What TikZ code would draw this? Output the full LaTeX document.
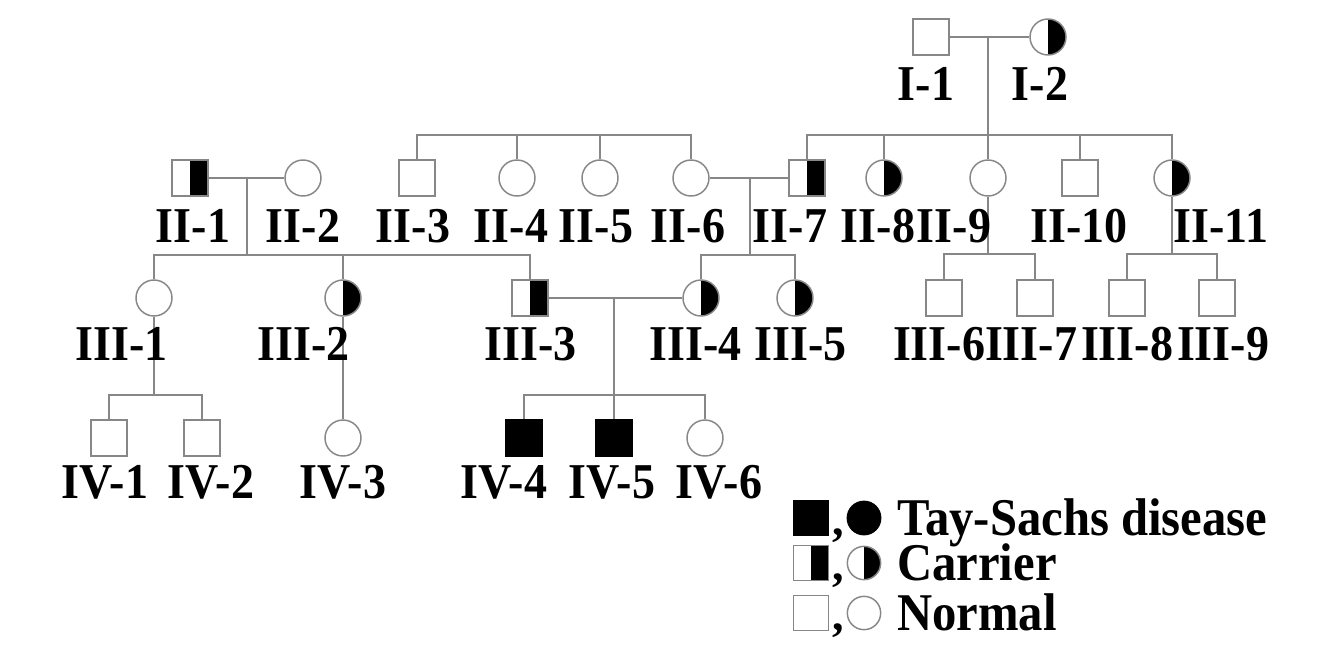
\documentclass[tikz,border=0pt]{standalone}
\usepackage{fontspec}
\usepackage{graphicx}
\setmainfont{Liberation Serif}
\newcommand{\tallt}[1]{\scalebox{1}[1.09]{#1}}
\tikzset{
    person/.style={draw=pedgray,line width=1.1pt,inner sep=0pt,minimum size=27pt},
    male/.style={person,shape=rectangle},
    female/.style={person,shape=circle},
    carrier/.style={path picture={\fill[black] (path picture bounding box.north) rectangle (path picture bounding box.south east);}},
    affected/.style={fill=black,draw=black},
    lbl/.style={anchor=base,inner sep=0pt,font=\fontsize{34.5}{36}\selectfont\bfseries},
    link/.style={draw=pedgray,line width=1.2pt}
}
\begin{document}
\begin{tikzpicture}[x=0.75pt,y=-0.75pt]
    \definecolor{pedgray}{RGB}{135,135,135}
    \useasboundingbox (0,0) rectangle (1334,658);
    % generation I
    \node[male] (I1) at (931,37) {};
    \node[female,carrier] (I2) at (1048,37) {};
    % generation II
    \node[male,carrier] (II1) at (190,178) {};
    \node[female] (II2) at (303,178) {};
    \node[male] (II3) at (417,178) {};
    \node[female] (II4) at (517,178) {};
    \node[female] (II5) at (600,178) {};
    \node[female] (II6) at (691,178) {};
    \node[male,carrier] (II7) at (807,178) {};
    \node[female,carrier] (II8) at (884,178) {};
    \node[female] (II9) at (988,178) {};
    \node[male] (II10) at (1080,178) {};
    \node[female,carrier] (II11) at (1172,178) {};
    % generation III
    \node[female] (III1) at (154,298) {};
    \node[female,carrier] (III2) at (343,298) {};
    \node[male,carrier] (III3) at (530,298) {};
    \node[female,carrier] (III4) at (701,298) {};
    \node[female,carrier] (III5) at (795,298) {};
    \node[male] (III6) at (944,298) {};
    \node[male] (III7) at (1035,298) {};
    \node[male] (III8) at (1127,298) {};
    \node[male] (III9) at (1217,298) {};
    % generation IV
    \node[male] (IV1) at (109,438) {};
    \node[male] (IV2) at (202,438) {};
    \node[female] (IV3) at (343,438) {};
    \node[male,affected] (IV4) at (524,438) {};
    \node[male,affected] (IV5) at (614,438) {};
    \node[female] (IV6) at (705,438) {};
    % couples and sibships
    \coordinate (m1) at (988,37);
    \coordinate (s2a) at (550,135);
    \coordinate (s2b) at (988,135);
    \coordinate (m2) at (247,178);
    \coordinate (s3a) at (247,255);
    \coordinate (m3) at (750,178);
    \coordinate (s3b) at (750,255);
    \coordinate (s3c) at (988,254);
    \coordinate (s3d) at (1172,254);
    \coordinate (m4) at (614,298);
    \coordinate (s4a) at (154,395);
    \coordinate (s4b) at (614,395);
    \draw[link] (I1.east) -- (I2.west);
    \draw[link] (m1) -- (s2b);
    \draw[link] (II3.north) |- (s2a) -| (II6.north);
    \draw[link] (II4.north) -- (II4.north |- s2a);
    \draw[link] (II5.north) -- (II5.north |- s2a);
    \draw[link] (II7.north) |- (s2b) -| (II11.north);
    \draw[link] (II8.north) -- (II8.north |- s2b);
    \draw[link] (II9.north) -- (s2b);
    \draw[link] (II10.north) -- (II10.north |- s2b);
    \draw[link] (II1.east) -- (II2.west);
    \draw[link] (m2) -- (s3a);
    \draw[link] (III1.north) |- (s3a) -| (III3.north);
    \draw[link] (III2.north) -- (III2.north |- s3a);
    \draw[link] (II6.east) -- (II7.west);
    \draw[link] (m3) -- (s3b);
    \draw[link] (III4.north) |- (s3b) -| (III5.north);
    \draw[link] (II9.south) -- (s3c);
    \draw[link] (III6.north) |- (s3c) -| (III7.north);
    \draw[link] (II11.south) -- (s3d);
    \draw[link] (III8.north) |- (s3d) -| (III9.north);
    \draw[link] (III3.east) -- (III4.west);
    \draw[link] (m4) -- (IV5.north);
    \draw[link] (IV4.north) |- (s4b) -| (IV6.north);
    \draw[link] (III1.south) -- (s4a);
    \draw[link] (IV1.north) |- (s4a) -| (IV2.north);
    \draw[link] (III2.south) -- (IV3.north);
    % labels
    \node[lbl] (tI1) at (926,100) {\tallt{I-1}};
    \node[lbl] (tI2) at (1040,100) {\tallt{I-2}};
    \node[lbl] (tII1) at (193,242) {\tallt{II-1}};
    \node[lbl] (tII2) at (303,242) {\tallt{II-2}};
    \node[lbl] (tII3) at (413,242) {\tallt{II-3}};
    \node[lbl] (tII4) at (511,242) {\tallt{II-4}};
    \node[lbl] (tII5) at (596,242) {\tallt{II-5}};
    \node[lbl] (tII6) at (688,242) {\tallt{II-6}};
    \node[lbl] (tII7) at (790,242) {\tallt{II-7}};
    \node[lbl] (tII8) at (878,242) {\tallt{II-8}};
    \node[lbl] (tII9) at (954,242) {\tallt{II-9}};
    \node[lbl] (tII10) at (1079,242) {\tallt{II-10}};
    \node[lbl] (tII11) at (1221,242) {\tallt{II-11}};
    \node[lbl] (tIII1) at (122,360) {\tallt{III-1}};
    \node[lbl] (tIII2) at (304,360) {\tallt{III-2}};
    \node[lbl] (tIII3) at (531,360) {\tallt{III-3}};
    \node[lbl] (tIII4) at (696,360) {\tallt{III-4}};
    \node[lbl] (tIII5) at (801,360) {\tallt{III-5}};
    \node[lbl] (tIII6) at (939,360) {\tallt{III-6}};
    \node[lbl] (tIII7) at (1031,360) {\tallt{III-7}};
    \node[lbl] (tIII8) at (1127,360) {\tallt{III-8}};
    \node[lbl] (tIII9) at (1223,360) {\tallt{III-9}};
    \node[lbl] (tIV1) at (105,498) {\tallt{IV-1}};
    \node[lbl] (tIV2) at (211,498) {\tallt{IV-2}};
    \node[lbl] (tIV3) at (343,498) {\tallt{IV-3}};
    \node[lbl] (tIV4) at (504,498) {\tallt{IV-4}};
    \node[lbl] (tIV5) at (612,498) {\tallt{IV-5}};
    \node[lbl] (tIV6) at (719,498) {\tallt{IV-6}};
    % legend
    \node[male,affected,minimum size=26pt] (keyma) at (811,518) {};
    \node[female,affected,minimum size=25pt] (keyfa) at (864,518) {};
    \node[male,carrier,minimum size=26pt] (keymc) at (811,563) {};
    \node[female,carrier,minimum size=25pt] (keyfc) at (864,563) {};
    \node[male,minimum size=26pt] (keymn) at (811,613) {};
    \node[female,minimum size=25pt] (keyfn) at (864,613) {};
    \node[lbl] (ka) at (838,535) {,};
    \node[lbl] (kc) at (838,580) {,};
    \node[lbl] (kn) at (838,630) {,};
    \node[lbl,anchor=base west,font=\fontsize{36.5}{38}\selectfont\bfseries] (tka) at (897,535) {\tallt{Tay-Sachs disease}};
    \node[lbl,anchor=base west,font=\fontsize{36.5}{38}\selectfont\bfseries] (tkc) at (897,580) {\tallt{Carrier}};
    \node[lbl,anchor=base west,font=\fontsize{36.5}{38}\selectfont\bfseries] (tkn) at (897,630) {\tallt{Normal}};
\end{tikzpicture}
\end{document}
